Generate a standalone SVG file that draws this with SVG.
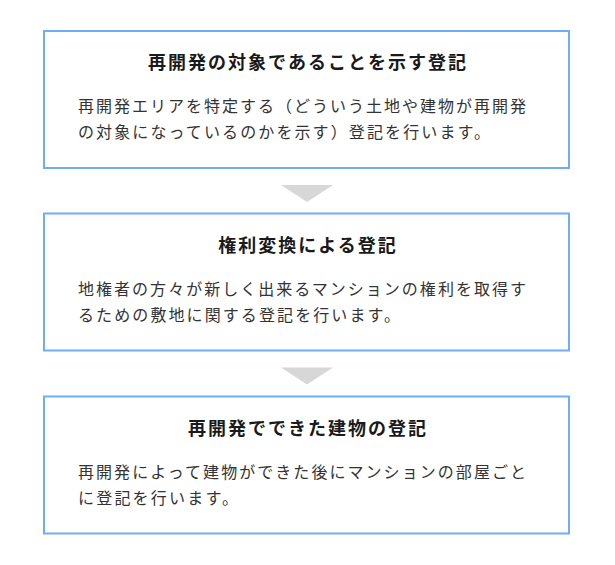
<svg xmlns="http://www.w3.org/2000/svg" width="615" height="565" viewBox="0 0 615 565">
<style>
.box{fill:#fff;stroke:#6fadf5;stroke-width:2}
.tri{fill:#d7d7d7}
.title{font-family:"Noto Sans CJK JP","Noto Sans",sans-serif;font-size:18px;font-weight:bold;fill:#1a1a1a;letter-spacing:2px;text-anchor:middle}
.body{font-family:"Noto Sans CJK JP","Noto Sans",sans-serif;font-size:16px;fill:#333;letter-spacing:2px}
</style>
<rect width="615" height="565" fill="#fff"/>
<g id="connectors">
<polygon class="tri" points="281,185 333,185 307,202"/>
<polygon class="tri" points="281,367.5 333,367.5 307,384.5"/>
</g>
<g id="node1">
<rect class="box" x="44" y="31" width="525" height="137"/>
<text class="title" x="308" y="69">再開発の対象であることを示す登記</text>
<text class="body" x="78" y="112" textLength="450" lengthAdjust="spacing">再開発エリアを特定する（どういう土地や建物が再開発</text>
<text class="body" x="78" y="138" textLength="414" lengthAdjust="spacing">の対象になっているのかを示す）登記を行います。</text>
</g>
<g id="node2">
<rect class="box" x="44" y="213.5" width="525" height="137"/>
<text class="title" x="308" y="251.5">権利変換による登記</text>
<text class="body" x="78" y="294.5" textLength="450" lengthAdjust="spacing">地権者の方々が新しく出来るマンションの権利を取得す</text>
<text class="body" x="78" y="320.5" textLength="324" lengthAdjust="spacing">るための敷地に関する登記を行います。</text>
</g>
<g id="node3">
<rect class="box" x="44" y="396.5" width="525" height="137"/>
<text class="title" x="308" y="434.5">再開発でできた建物の登記</text>
<text class="body" x="78" y="477.5" textLength="450" lengthAdjust="spacing">再開発によって建物ができた後にマンションの部屋ごと</text>
<text class="body" x="78" y="503.5" textLength="162" lengthAdjust="spacing">に登記を行います。</text>
</g>
</svg>
